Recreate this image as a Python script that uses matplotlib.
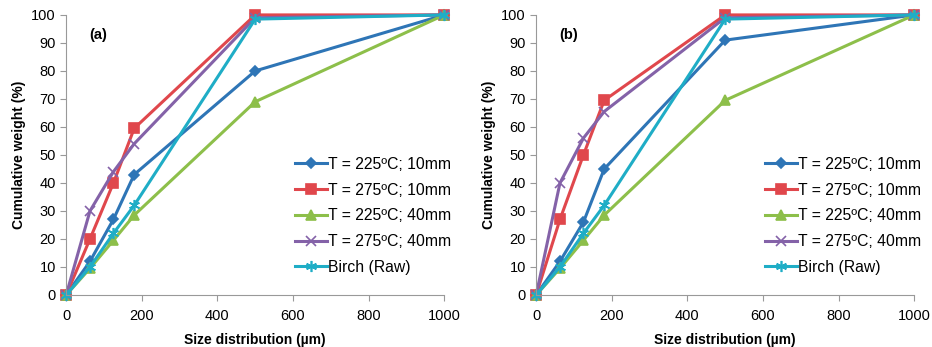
import matplotlib.pyplot as plt

sizes = [0, 63, 125, 180, 500, 1000]
labels = ["T = 225ºC; 10mm", "T = 275ºC; 10mm", "T = 225ºC; 40mm",
          "T = 275ºC; 40mm", "Birch (Raw)"]

# panel (a)
a_225_10 = [0, 12, 27, 43, 80, 100]
a_275_10 = [0, 20, 40, 59.5, 100, 100]
a_225_40 = [0, 9.5, 19.5, 28.5, 69, 100]
a_275_40 = [0, 30, 44, 54, 99, 100]
a_birch = [0, 10, 22, 32, 98.5, 100]

# panel (b)
b_225_10 = [0, 12, 26, 45, 91, 100]
b_275_10 = [0, 27, 50, 69.5, 100, 100]
b_225_40 = [0, 9.5, 19.5, 28.5, 69.5, 100]
b_275_40 = [0, 40, 56, 65.5, 99, 100]
b_birch = [0, 10, 22, 32, 98.5, 100]

colors = ['#2E75B6', '#E0474C', '#8DBF4A', '#8462A8', '#1FADC6']
markers = ['D', 's', '^', 'x', (6, 2, 0)]
msizes = [5, 7, 7, 7, 8]

plt.rcParams['font.family'] = ['Liberation Sans', 'DejaVu Sans']

fig, axes = plt.subplots(1, 2, figsize=(9.32, 3.47), dpi=100)
fig.subplots_adjust(left=0.071, right=0.981, bottom=0.15, top=0.957, wspace=0.243)

panels = [("(a)", [a_225_10, a_275_10, a_225_40, a_275_40, a_birch]),
          ("(b)", [b_225_10, b_275_10, b_225_40, b_275_40, b_birch])]

for ax, (tag, series) in zip(axes, panels):
    for vals, c, m, ms, lab in zip(series, colors, markers, msizes, labels):
        ax.plot(sizes, vals, color=c, marker=m, markersize=ms, linewidth=2.2,
                label=lab, markeredgewidth=1.2, clip_on=False)
    ax.set_xlim(0, 1000)
    ax.set_ylim(0, 100)
    ax.set_xticks(range(0, 1001, 200))
    ax.set_yticks(range(0, 101, 10))
    ax.tick_params(labelsize=10.5, color='#999999', length=4)
    ax.tick_params(axis='x', pad=6)
    for s in ['top', 'right']:
        ax.spines[s].set_visible(False)
    for s in ['left', 'bottom']:
        ax.spines[s].set_color('#999999')
    ax.set_xlabel("Size distribution (µm)", fontsize=10, fontweight='bold', labelpad=7)
    ax.set_ylabel("Cumulative weight (%)", fontsize=10, fontweight='bold', labelpad=4)
    ax.text(0.06, 0.93, tag, transform=ax.transAxes, fontsize=10.5,
            fontweight='bold', va='center')
    ax.legend(loc='lower right', bbox_to_anchor=(1.035, 0.05), frameon=False,
              fontsize=11.3, handlelength=2.0, handletextpad=0.1,
              labelspacing=0.68, borderaxespad=0)

fig.savefig("out.png")
